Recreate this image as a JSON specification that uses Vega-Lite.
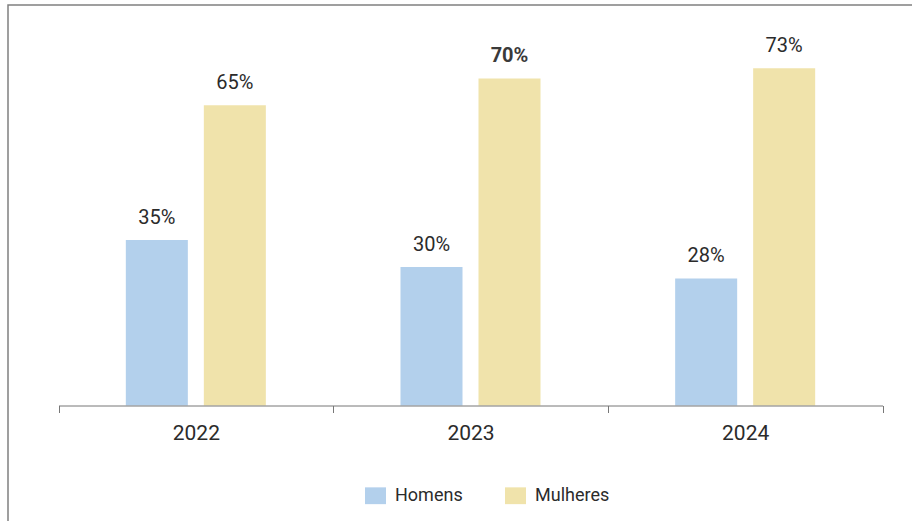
{
  "$schema": "https://vega.github.io/schema/vega-lite/v6.json",
  "width": 904,
  "height": 516,
  "autosize": {"type": "none"},
  "padding": {"left": 8, "top": 5, "right": 0, "bottom": 0},
  "background": "white",
  "config": {
    "font": "Roboto",
    "view": {"stroke": "#808080", "strokeWidth": 1.5, "strokeDash": [904, 1420, 517, 1]}
  },
  "data": {
    "values": [
      {"ano": "2022", "genero": "Homens", "valor": 35.8, "rotulo": "35%"},
      {"ano": "2022", "genero": "Mulheres", "valor": 65.0, "rotulo": "65%"},
      {"ano": "2023", "genero": "Homens", "valor": 30.0, "rotulo": "30%"},
      {"ano": "2023", "genero": "Mulheres", "valor": 70.8, "rotulo": "70%"},
      {"ano": "2024", "genero": "Homens", "valor": 27.5, "rotulo": "28%"},
      {"ano": "2024", "genero": "Mulheres", "valor": 73.0, "rotulo": "73%"}
    ]
  },
  "encoding": {
    "x": {
      "field": "ano",
      "type": "nominal",
      "scale": {"range": [50.5, 874.5], "paddingInner": 0, "paddingOuter": 0},
      "axis": {
        "title": null,
        "orient": "bottom",
        "offset": -115.5,
        "zindex": 1,
        "labelAngle": 0,
        "domainColor": "#777777",
        "domainWidth": 1,
        "tickColor": "#777777",
        "tickWidth": 1,
        "tickSize": 7,
        "tickBand": "extent",
        "labelFontSize": 21,
        "labelColor": "#2b2b2b",
        "labelBaseline": "alphabetic",
        "labelPadding": 27
      }
    },
    "xOffset": {
      "field": "genero",
      "type": "nominal",
      "scale": {"paddingInner": 0.205, "paddingOuter": 0.863}
    },
    "y": {
      "field": "valor",
      "type": "quantitative",
      "scale": {"domain": [0, 80], "range": [400.5, 30.9], "nice": false, "zero": true},
      "axis": null
    }
  },
  "layer": [
    {
      "mark": {"type": "bar"},
      "encoding": {
        "color": {
          "field": "genero",
          "type": "nominal",
          "scale": {"domain": ["Homens", "Mulheres"], "range": ["#b3d0ec", "#f0e3ab"]},
          "legend": {
            "orient": "none",
            "legendX": 357,
            "legendY": 480,
            "direction": "horizontal",
            "title": null,
            "symbolType": "M-1,-0.8H1V0.8H-1Z",
            "symbolSize": 441,
            "symbolStrokeWidth": 0,
            "symbolOpacity": 1,
            "labelFontSize": 18,
            "labelColor": "#2b2b2b",
            "labelOffset": 9,
            "columnPadding": 42,
            "padding": 0
          }
        }
      }
    },
    {
      "transform": [{"filter": "!(datum.ano === '2023' && datum.genero === 'Mulheres')"}],
      "mark": {"type": "text", "baseline": "alphabetic", "dy": -16, "fontSize": 20, "color": "#2b2b2b"},
      "encoding": {
        "text": {"field": "rotulo", "type": "nominal"}
      }
    },
    {
      "transform": [{"filter": "datum.ano === '2023' && datum.genero === 'Mulheres'"}],
      "mark": {"type": "text", "baseline": "alphabetic", "dy": -16, "fontSize": 20, "fontWeight": "bold", "color": "#3a3a3a"},
      "encoding": {
        "text": {"field": "rotulo", "type": "nominal"}
      }
    }
  ]
}
